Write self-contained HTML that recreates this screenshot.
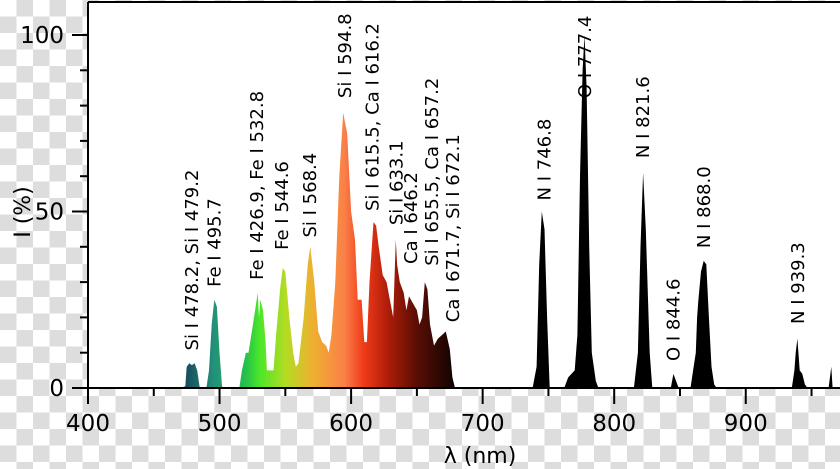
<!DOCTYPE html>
<html><head><meta charset="utf-8"><style>
html,body{margin:0;padding:0;width:840px;height:469px;overflow:hidden}
body{background-color:#fff;background-image:linear-gradient(45deg,#ddd 25%,transparent 25%,transparent 75%,#ddd 75%),linear-gradient(45deg,#ddd 25%,transparent 25%,transparent 75%,#ddd 75%);background-size:33px 33px;background-position:0 0,16.5px 16.5px}
svg{position:absolute;left:0;top:0;font-family:"DejaVu Sans","Liberation Sans",sans-serif}
</style></head><body>
<svg id="chart" width="840" height="469">
<defs>
<linearGradient id="spec" gradientUnits="userSpaceOnUse" x1="0" y1="0" x2="840" y2="0">
<stop offset="0.222" stop-color="#174f5e"/>
<stop offset="0.254" stop-color="#22907a"/>
<stop offset="0.293" stop-color="#25c24a"/>
<stop offset="0.309" stop-color="#4be62a"/>
<stop offset="0.340" stop-color="#b4dc22"/>
<stop offset="0.372" stop-color="#eeb030"/>
<stop offset="0.410" stop-color="#fa8048"/>
<stop offset="0.433" stop-color="#f03a18"/>
<stop offset="0.465" stop-color="#a81a08"/>
<stop offset="0.496" stop-color="#5a0e04"/>
<stop offset="0.535" stop-color="#1a0502"/>
<stop offset="0.543" stop-color="#000"/>
</linearGradient>
</defs>
<rect x="88" y="2" width="760" height="386" fill="#fff"/>
<g id="marks"></g>
<line x1="88" y1="2" x2="840" y2="2" stroke="#000" stroke-width="2"/>
<line x1="88" y1="2" x2="88" y2="388" stroke="#000" stroke-width="2"/>
<line x1="72" y1="388" x2="840" y2="388" stroke="#000" stroke-width="2"/>
<g id="axes"></g>
<text x="480" y="463" font-size="22" text-anchor="middle">λ (nm)</text>
<text transform="translate(30,212) rotate(-90)" font-size="22" text-anchor="middle">I (%)</text>
</svg>
<script>
const wavelengths=[470,474,475,477,479,481,483,485,490,492,494,496,498,500,502,515,517,520,522,525,527,529,530,531,533,535,536,538,541,543,546,548,550,553,556,558,560,564,567,569,572,575,578,581,583,585,588,591,594,597,600,603,605,608,610,612,614,617,619,621,624,627,629,632,634,635,637,640,642,644,647,650,652,654,656,658,660,663,666,669,672,675,677,679,710,738,741,743,745,747,749,751,762,765,770,772,774,776,777.4,779,781,783,786,788,815,818,820,822,824,827,829,843,845,847,849,858,860,862,863,864,866,868,870,872,874,876,878,935,937,938,939.3,941,943,945,947,963,965,966,975];
const intensities=[0,0.5,6,7,6.5,7,5,0,0,5,18,25,23,10,0,0,5,10,10,17,22,27,20,25,22,13,5,5,5,15,28,34,33,20,10,6,7,20,35,40,30,16,13,12,10,15,30,60,78,72,50,42,25,25,13,13,30,47,46,40,32,30,26,20,42,35,30,27,22,26,24,22,18,20,30,28,18,12,14,15,16,11,3,0,0,0,6,35,50,45,20,0,0,3,5,15,60,90,100,85,40,10,2,0,0,10,40,61,45,10,0,0,4,2,0,0,5,10,20,25,33,36,35,20,6,1,0,0,5,10,14,5,4,1,0,0,6,0,0];
const lineLabels=["Si I 478.2, Si I 479.2","Fe I 495.7","Fe I 426.9, Fe I 532.8","Fe I 544.6","Si I 568.4","Si I 594.8","Si I 615.5, Ca I 616.2","Si I 633.1","Ca I 646.2","Si I 655.5, Ca I 657.2","Ca I 671.7, Si I 672.1","N I 746.8","O I 777.4","N I 821.6","O I 844.6","N I 868.0","N I 939.3"];
const labelPositions=[478.7,495.7,528,547,568.4,594.8,616,634,645,661,677,746.8,777.4,821.6,844.6,868,939.3];
const labelHeights=[9.5,27.5,29.5,38,41.5,81,49,45,34,33.5,17.5,52,81,64,6.5,38.5,17];
const xTicks=[400,500,600,700,800,900];
const yTicks=[0,50,100];
const NS="http://www.w3.org/2000/svg";
const X=v=>88+(v-400)*1.3155;
const Y=v=>388-v*3.53;
const marks=document.getElementById('marks');
let d="M"+X(wavelengths[0])+","+Y(0);
for(let i=0;i<wavelengths.length;i++)d+=" L"+X(wavelengths[i]).toFixed(1)+","+Y(intensities[i]).toFixed(1);
d+=" L"+X(wavelengths[wavelengths.length-1])+","+Y(0)+" Z";
const p=document.createElementNS(NS,'path');
p.setAttribute('d',d);p.setAttribute('fill','url(#spec)');


marks.appendChild(p);
for(let i=0;i<lineLabels.length;i++){
  const t=document.createElementNS(NS,'text');
  const x=X(labelPositions[i])+6.5,y=Y(labelHeights[i])-4;
  t.setAttribute('transform','translate('+x+','+y+') rotate(-90)');
  t.setAttribute('font-size','18');
  t.textContent=lineLabels[i];
  
  
  marks.appendChild(t);
}
const axes=document.getElementById('axes');
function ln(x1,y1,x2,y2,name){const l=document.createElementNS(NS,'line');l.setAttribute('x1',x1);l.setAttribute('y1',y1);l.setAttribute('x2',x2);l.setAttribute('y2',y2);l.setAttribute('stroke','#000');l.setAttribute('stroke-width','2');


axes.appendChild(l);}
for(let v=450;v<=950;v+=100)ln(X(v),388,X(v),396,'x-minor-tick');
for(let v=10;v<=100;v+=10)if(v%50)ln(80,Y(v),88,Y(v),'y-minor-tick');
xTicks.forEach(v=>{ln(X(v),388,X(v),404,'x-major-tick');
  const t=document.createElementNS(NS,'text');t.setAttribute('x',X(v));t.setAttribute('y',431);t.setAttribute('font-size','23');t.setAttribute('text-anchor','middle');t.textContent=v;
  
  
  axes.appendChild(t);});
yTicks.forEach(v=>{ln(72,Y(v),88,Y(v),'y-major-tick');
  const t=document.createElementNS(NS,'text');t.setAttribute('x',64);t.setAttribute('y',Y(v)+8);t.setAttribute('font-size','23');t.setAttribute('text-anchor','end');t.textContent=v;
  
  
  axes.appendChild(t);});
</script>
</body></html>
